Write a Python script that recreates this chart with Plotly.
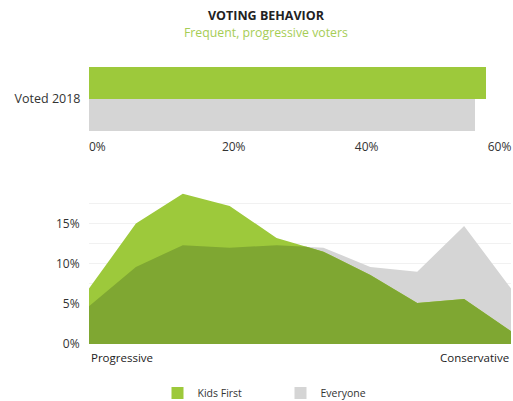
import plotly.graph_objects as go

# Voting share (%)
bar_category = ["Voted 2018"]
kids_first_voted = [59.8]
everyone_voted = [58.1]

# Ideology distribution (%), progressive -> conservative
ideology_steps = list(range(10))
kids_first_dist = [6.9, 15.0, 18.7, 17.2, 13.2, 11.5, 8.6, 5.1, 5.6, 1.6]
everyone_dist = [4.7, 9.6, 12.3, 12.0, 12.3, 12.0, 9.6, 9.0, 14.7, 6.9]

bar_ticks = [0, 20, 40, 60]
area_ticks = [0, 2.5, 5, 7.5, 10, 12.5, 15, 17.5]
area_ticktext = ["0%", "", "5%", "", "10%", "", "15%", ""]

GREEN = "#9dc93b"
DARK_GREEN = "#7fa732"
GREY = "#d5d5d5"
FONT = "Open Sans"

L_MARGIN, R_MARGIN = 89, 2
PLOT_W = 513 - L_MARGIN - R_MARGIN


def px_x(p):
    return (p - L_MARGIN) / PLOT_W


def px_y(p):
    return 1 - p / 401


# Overlap of the two distributions: pointwise minimum with crossings inserted
ov_x, ov_y = [], []
for i in range(len(ideology_steps)):
    a, b = kids_first_dist[i], everyone_dist[i]
    ov_x.append(ideology_steps[i])
    ov_y.append(min(a, b))
    if i + 1 < len(ideology_steps):
        a2, b2 = kids_first_dist[i + 1], everyone_dist[i + 1]
        d1, d2 = a - b, a2 - b2
        if d1 * d2 < 0:
            t = d1 / (d1 - d2)
            ov_x.append(ideology_steps[i] + t)
            ov_y.append(a + t * (a2 - a))

fig = go.Figure()

# Horizontal bars (Everyone first so it sits below)
fig.add_trace(go.Bar(
    y=bar_category, x=everyone_voted, orientation="h", name="Everyone",
    marker=dict(color=GREY, line=dict(width=0)), xaxis="x", yaxis="y",
    legendrank=2, hoverinfo="skip"))
fig.add_trace(go.Bar(
    y=bar_category, x=kids_first_voted, orientation="h", name="Kids First",
    marker=dict(color=GREEN, line=dict(width=0)), xaxis="x", yaxis="y",
    legendrank=1, hoverinfo="skip"))

# Area distributions
fig.add_trace(go.Scatter(
    x=ideology_steps, y=everyone_dist, fill="tozeroy", mode="none",
    fillcolor=GREY, showlegend=False, xaxis="x2", yaxis="y2", hoverinfo="skip"))
fig.add_trace(go.Scatter(
    x=ideology_steps, y=kids_first_dist, fill="tozeroy", mode="none",
    fillcolor=GREEN, showlegend=False, xaxis="x2", yaxis="y2", hoverinfo="skip"))
fig.add_trace(go.Scatter(
    x=ov_x, y=ov_y, fill="tozeroy", mode="none",
    fillcolor=DARK_GREEN, showlegend=False, xaxis="x2", yaxis="y2", hoverinfo="skip"))

fig.update_layout(
    width=513, height=401,
    margin=dict(l=L_MARGIN, r=R_MARGIN, t=0, b=0, autoexpand=False),
    paper_bgcolor="white", plot_bgcolor="white",
    font=dict(family=FONT, size=12, color="#333333"),
    barmode="group", bargap=0, bargroupgap=0,
    xaxis=dict(domain=[0, px_x(487.7)], range=[0, 60], tickvals=bar_ticks,
               ticktext=[f"{v}%" for v in bar_ticks], showgrid=False,
               zeroline=False, showline=False, ticks="",
               ticklabelstandoff=7, ticklabelposition="outside right",
               anchor="y", fixedrange=True, automargin=False),
    yaxis=dict(domain=[px_y(131), px_y(66.7)], range=[-0.5, 0.5],
               showgrid=False, zeroline=False, ticks="outside", ticklen=5,
               tickcolor="rgba(0,0,0,0)", anchor="x", automargin=False,
               tickfont=dict(size=12.5)),
    xaxis2=dict(domain=[0, 1], range=[0, 9], showticklabels=False,
                showgrid=False, zeroline=False, showline=False, anchor="y2",
                automargin=False),
    yaxis2=dict(domain=[px_y(344), px_y(183.4)], range=[0, 20],
                tickvals=area_ticks, ticktext=area_ticktext,
                showgrid=True, gridcolor="#f1f1f1", gridwidth=1,
                zeroline=False, ticks="outside", ticklen=6,
                tickcolor="rgba(0,0,0,0)", anchor="x2", automargin=False),
    legend=dict(orientation="h", x=px_x(157.5), xanchor="left", y=px_y(393),
                yanchor="middle", font=dict(size=10.5, color="#333333"),
                entrywidth=78, entrywidthmode="pixels",
                traceorder="normal"),
    annotations=[
        dict(text="<b>VOTING BEHAVIOR</b>", x=px_x(266), xref="paper",
             y=px_y(16), yref="paper", showarrow=False,
             font=dict(size=12.5, color="#222222"),
             xanchor="center", yanchor="middle"),
        dict(text="Frequent, progressive voters", x=px_x(266), xref="paper",
             y=px_y(32), yref="paper", showarrow=False,
             font=dict(size=12.3, color="#a6cd55"), xanchor="center",
             yanchor="middle"),
        dict(text="Progressive", x=0, xref="x2", y=px_y(357), yref="paper",
             showarrow=False, xanchor="left", yanchor="middle",
             font=dict(size=11.5, color="#222222")),
        dict(text="Conservative", x=9, xref="x2", y=px_y(357), yref="paper",
             showarrow=False, xanchor="right", yanchor="middle",
             font=dict(size=11.5, color="#222222")),
    ],
)

fig.write_html("out.html")
